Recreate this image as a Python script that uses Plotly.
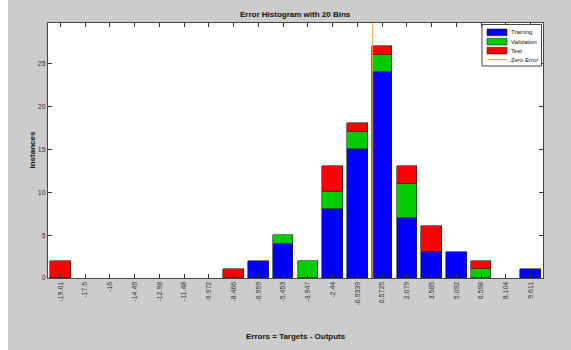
import plotly.graph_objects as go

# ---- data ----
bin_centers = [-19.01, -17.5, -16.0, -14.49, -12.98, -11.48, -9.972, -8.466, -6.959, -5.453,
               -3.947, -2.44, -0.9339, 0.5725, 2.079, 3.585, 5.092, 6.598, 8.104, 9.611]
tick_labels = ["-19.01", "-17.5", "-16", "-14.49", "-12.98", "-11.48", "-9.972", "-8.466", "-6.959", "-5.453",
               "-3.947", "-2.44", "-0.9339", "0.5725", "2.079", "3.585", "5.092", "6.598", "8.104", "9.611"]
training   = [0, 0, 0, 0, 0, 0, 0, 0, 2, 4, 0, 8, 15, 24, 7, 3, 3, 0, 0, 1]
validation = [0, 0, 0, 0, 0, 0, 0, 0, 0, 1, 2, 2, 2, 2, 4, 0, 0, 1, 0, 0]
test       = [2, 0, 0, 0, 0, 0, 0, 1, 0, 0, 0, 3, 1, 1, 2, 3, 0, 1, 0, 0]
series_names = ["Training", "Validation", "Test"]
series_colors = ["#0000ff", "#00cc00", "#ff0000"]
zero_color = "#eba12a"

# ---- layout constants (page pixels) ----
W, H = 571, 350
L, R, T, B = 48, 28, 23, 72
pw, ph = W - L - R, H - T - B

def px(x):
    return (x - L) / pw

def py(y):
    return (H - B - y) / ph

n = len(bin_centers)
step = (bin_centers[-1] - bin_centers[0]) / (n - 1)
bar_w = 0.82 * step
half = step / 2
total_max = max(a + b + c for a, b, c in zip(training, validation, test))
ymax = total_max * 1.1

fig = go.Figure()
for name, vals, col in zip(series_names, [training, validation, test], series_colors):
    fig.add_trace(go.Bar(x=bin_centers, y=[v if v else None for v in vals], name=name, width=bar_w,
                         marker=dict(color=col, line=dict(color="#222222", width=0.6)),
                         showlegend=False))
fig.add_trace(go.Scatter(x=[0, 0], y=[0, ymax], mode="lines",
                         line=dict(color=zero_color, width=1), showlegend=False))

shapes = [
    # white strip at left edge of the image
    dict(type="rect", xref="paper", yref="paper", x0=px(0), x1=px(8), y0=py(H), y1=py(0),
         fillcolor="white", line=dict(width=0), layer="below"),
    # legend box
    dict(type="rect", xref="paper", yref="paper", x0=px(482), x1=px(541.5), y0=py(66), y1=py(24.5),
         fillcolor="white", line=dict(color="#444444", width=1)),
]
annotations = []
sw_rows = [(29, 35.7), (38.3, 45), (47.3, 54)]
for (y0, y1), col, name in zip(sw_rows, series_colors, series_names):
    shapes.append(dict(type="rect", xref="paper", yref="paper", x0=px(487), x1=px(507),
                       y0=py(y1), y1=py(y0), fillcolor=col, line=dict(color="#222222", width=0.6)))
    annotations.append(dict(xref="paper", yref="paper", x=px(509), y=py((y0 + y1) / 2), text=name,
                            showarrow=False, xanchor="left", yanchor="middle",
                            font=dict(size=6, color="#111111")))
shapes.append(dict(type="line", xref="paper", yref="paper", x0=px(487), x1=px(507), y0=py(59.5), y1=py(59.5),
                   line=dict(color=zero_color, width=1)))
annotations.append(dict(xref="paper", yref="paper", x=px(509), y=py(59.5), text="Zero Error",
                        showarrow=False, xanchor="left", yanchor="middle",
                        font=dict(size=6, color="#111111")))
# axis labels and title
annotations.append(dict(xref="paper", yref="paper", x=0.5, y=py(336), text="<b>Errors = Targets - Outputs</b>",
                        showarrow=False, xanchor="center", yanchor="middle",
                        font=dict(size=8, color="#111111")))
annotations.append(dict(xref="paper", yref="paper", x=px(32), y=0.5, text="<b>Instances</b>", textangle=-90,
                        showarrow=False, xanchor="center", yanchor="middle",
                        font=dict(size=8, color="#111111")))
annotations.append(dict(xref="paper", yref="paper", x=0.5, y=py(15), text="<b>Error Histogram with 20 Bins</b>",
                        showarrow=False, xanchor="center", yanchor="middle",
                        font=dict(size=8, color="#111111")))

fig.update_layout(
    width=W, height=H, margin=dict(l=L, r=R, t=T, b=B, pad=0),
    paper_bgcolor="#cccccc", plot_bgcolor="white",
    barmode="stack", bargap=0,
    font=dict(family="Liberation Sans, Arial, sans-serif", size=7, color="#333333"),
    shapes=shapes, annotations=annotations,
    xaxis=dict(range=[bin_centers[0] - half, bin_centers[-1] + half],
               tickmode="array", tickvals=bin_centers, ticktext=tick_labels, tickangle=-90,
               ticks="inside", ticklen=4, tickcolor="#333333", showline=True, linecolor="#444444",
               linewidth=1, mirror="ticks", showgrid=False, zeroline=False,
               tickfont=dict(size=7, color="#333333")),
    yaxis=dict(range=[0, ymax], tickmode="array", tickvals=[0, 5, 10, 15, 20, 25],
               ticks="inside", ticklen=4, tickcolor="#333333", showline=True, linecolor="#444444",
               linewidth=1, mirror="ticks", showgrid=False, zeroline=False,
               tickfont=dict(size=7, color="#333333")),
)

fig.write_html("out.html", config={"displayModeBar": False},
               post_script="document.body.style.margin='0';document.body.style.overflow='hidden';")
